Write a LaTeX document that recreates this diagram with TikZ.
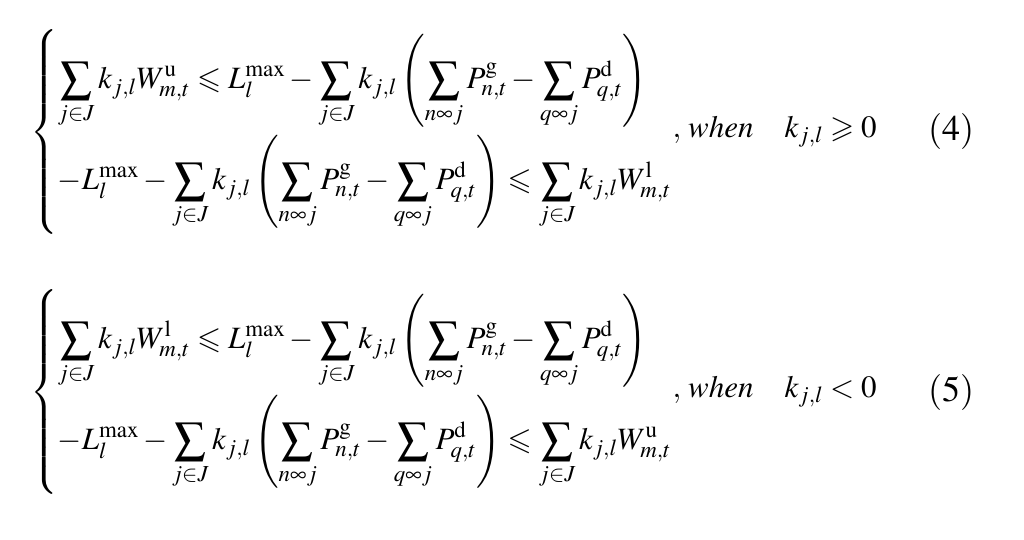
\documentclass[tikz,border=0pt]{standalone}
\usepackage{amsmath,amssymb,array}
\usepackage{mathptmx}
\begin{document}
\begin{tikzpicture}[x=1pt,y=1pt,eq/.style={anchor=west,inner sep=0pt,font=\fontsize{31}{36}\selectfont}]
\useasboundingbox (0,0) rectangle (1024,539);
\fill[white] (0,0) rectangle (1024,539);
\node[eq] (e4) at (30,407) {$\left\{\begin{array}{@{}>{\displaystyle}l@{}}
\sum_{j\in J} k_{j,l}W^{\mathrm{u}}_{m,t} \leqslant L_l^{\max} - \sum_{j\in J} k_{j,l}\left(\sum_{n\infty j}P^{\mathrm g}_{n,t} - \sum_{q\infty j}P^{\mathrm d}_{q,t}\right)\\[36pt]
-L_l^{\max} - \sum_{j\in J} k_{j,l}\left(\sum_{n\infty j}P^{\mathrm g}_{n,t} - \sum_{q\infty j}P^{\mathrm d}_{q,t}\right) \leqslant \sum_{j\in J} k_{j,l}W^{\mathrm{l}}_{m,t}
\end{array}\right.$};
\node[eq] (w4) at (e4.east) {$,\,\mathit{when}\quad k_{j,l}\geqslant 0$};
\node[eq,font=\fontsize{36}{40}\selectfont] (n4) at (928,407) {$\mathrm{(4)}$};
\node[eq] (e5) at (30,147) {$\left\{\begin{array}{@{}>{\displaystyle}l@{}}
\sum_{j\in J} k_{j,l}W^{\mathrm{l}}_{m,t} \leqslant L_l^{\max} - \sum_{j\in J} k_{j,l}\left(\sum_{n\infty j}P^{\mathrm g}_{n,t} - \sum_{q\infty j}P^{\mathrm d}_{q,t}\right)\\[36pt]
-L_l^{\max} - \sum_{j\in J} k_{j,l}\left(\sum_{n\infty j}P^{\mathrm g}_{n,t} - \sum_{q\infty j}P^{\mathrm d}_{q,t}\right) \leqslant \sum_{j\in J} k_{j,l}W^{\mathrm{u}}_{m,t}
\end{array}\right.$};
\node[eq] (w5) at (e5.east) {$,\,\mathit{when}\quad k_{j,l}< 0$};
\node[eq,font=\fontsize{36}{40}\selectfont] (n5) at (928,147) {$\mathrm{(5)}$};
\end{tikzpicture}
\end{document}
